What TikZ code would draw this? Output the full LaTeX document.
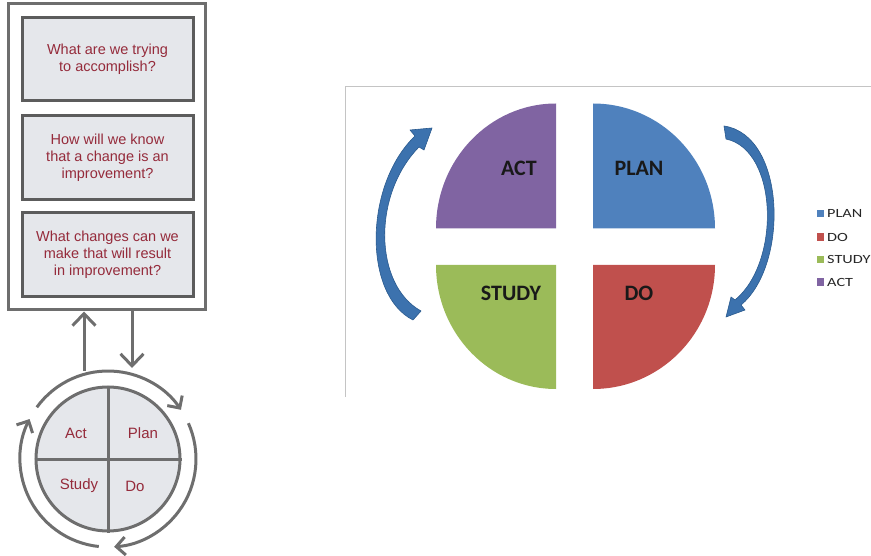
\documentclass[tikz,border=0pt]{standalone}
\usepackage{fontspec}
\setmainfont{Liberation Sans}
\newfontfamily\calibri{Carlito}
\usetikzlibrary{arrows.meta}
\definecolor{frameg}{HTML}{6E6E6E}
\definecolor{boxfill}{HTML}{E5E7EB}
\definecolor{boxline}{HTML}{5C5C5C}
\definecolor{qred}{HTML}{952B3B}
\definecolor{cpurple}{HTML}{8064A2}
\definecolor{cblue}{HTML}{4F81BD}
\definecolor{cgreen}{HTML}{9BBB59}
\definecolor{cred}{HTML}{C0504D}
\definecolor{arrblue}{HTML}{3C72AE}
\definecolor{arrdark}{HTML}{2A5A8E}
\definecolor{chartframe}{HTML}{C4C4C4}
\begin{document}
\begin{tikzpicture}[x=1pt,y=-1pt,
  qbox/.style={draw=boxline, line width=3pt, fill=boxfill, minimum width=171pt,
    align=center, text=qred, font=\fontsize{14.5}{17}\selectfont, inner sep=0pt},
  ring/.style={draw=frameg, line width=3pt, -{Straight Barb[length=9pt,width=18pt]}},
  vline/.style={draw=frameg, line width=3pt, -{Straight Barb[length=12pt,width=23pt]}},
  cyclab/.style={text=qred, font=\fontsize{15}{17}\selectfont, inner sep=0pt},
  pielab/.style={font=\calibri\bfseries\fontsize{22}{24}\selectfont, text=black!90, inner sep=0pt},
  legsq/.style={minimum size=7.5pt, inner sep=0pt},
  legtxt/.style={anchor=west, font=\calibri\fontsize{12.5}{14}\selectfont, text=black!85, inner sep=0pt},
  bluearrow/.style={fill=arrblue, draw=arrdark, line width=0.6pt, line join=round}
]
\useasboundingbox (0,0) rectangle (871,556);

% ---------------- left panel ----------------
\node[draw=frameg, line width=3pt, minimum width=197pt, minimum height=306pt, inner sep=0pt] (frame) at (106.5,157) {};
\node[qbox, minimum height=83pt] (q1) at (107.5,59.5) {What are we trying\\to accomplish?};
\node[qbox, minimum height=84pt] (q2) at (107.5,158) {How will we know\\that a change is an\\improvement?};
\node[qbox, minimum height=84pt] (q3) at (107.5,255) {What changes can we\\make that will result\\in improvement?};

\node[circle, draw=frameg, fill=boxfill, line width=3pt, minimum size=144pt, inner sep=0pt] (cyc) at (108,459) {};
\draw[frameg, line width=3pt] (cyc.north) -- (cyc.south);
\draw[frameg, line width=3pt] (cyc.west) -- (cyc.east);
\node[cyclab] (act) at (76,433) {Act};
\node[cyclab] (plan) at (143,433) {Plan};
\node[cyclab] (study) at (79,486) {Study};
\node[cyclab] (do) at (135,486) {Do};

\draw[ring] (cyc.center) ++(-144:88) arc[start angle=-144, end angle=-34, radius=88];
\draw[ring] (cyc.center) ++(-24:88) arc[start angle=-24, end angle=86, radius=88];
\draw[ring] (cyc.center) ++(96:88) arc[start angle=96, end angle=207, radius=88];

\coordinate (upstart) at (84,371);
\coordinate (dnend) at (132,368);
\draw[vline] (upstart) -- (upstart |- frame.south);
\draw[vline] (dnend |- frame.south) -- (dnend);

% ---------------- right panel ----------------
\draw[chartframe, line width=1pt] (345,397) -- (345,87) -- (871,87);

\fill[cpurple] (556,228.5) -- (436,228.5) arc[start angle=180, end angle=270, x radius=120, y radius=125] -- cycle;
\fill[cblue] (593,228.5) -- (593,103.5) arc[start angle=270, end angle=360, x radius=122, y radius=125] -- cycle;
\fill[cred] (593,265) -- (715,265) arc[start angle=0, end angle=90, x radius=122, y radius=124] -- cycle;
\fill[cgreen] (556,265) -- (556,389) arc[start angle=90, end angle=180, x radius=120, y radius=124] -- cycle;

\node[pielab] (pact) at (519,168.5) {ACT};
\node[pielab] (pplan) at (639,168.5) {PLAN};
\node[pielab] (pstudy) at (511,293) {STUDY};
\node[pielab] (pdo) at (639,293) {DO};

% curved block arrows
\path[bluearrow] (413,320) -- (421,311)
  .. controls (374,285) and (372,195) .. (419,147)
  -- (424,150) -- (432,128) -- (410,130) -- (415,136)
  .. controls (364,185) and (363,295) .. (413,320) -- cycle;
\path[bluearrow] (724,126)
  .. controls (786,135) and (789,265) .. (741,305)
  -- (745,310) -- (726,317) -- (731,297) -- (735,300)
  .. controls (781,262) and (778,150) .. (726,139) -- cycle;

% legend
\node[legsq, fill=cblue] (l1) at (820.5,213.5) {};
\node[legtxt] (t1) at (827,213.5) {\scalebox{1.3}[1]{PLAN}};
\node[legsq, fill=cred] (l2) at (820.5,237) {};
\node[legtxt] (t2) at (827,237) {\scalebox{1.3}[1]{DO}};
\node[legsq, fill=cgreen] (l3) at (820.5,259.5) {};
\node[legtxt] (t3) at (827,259.5) {\scalebox{1.3}[1]{STUDY}};
\node[legsq, fill=cpurple] (l4) at (820.5,282) {};
\node[legtxt] (t4) at (827,282) {\scalebox{1.3}[1]{ACT}};
\end{tikzpicture}
\end{document}
